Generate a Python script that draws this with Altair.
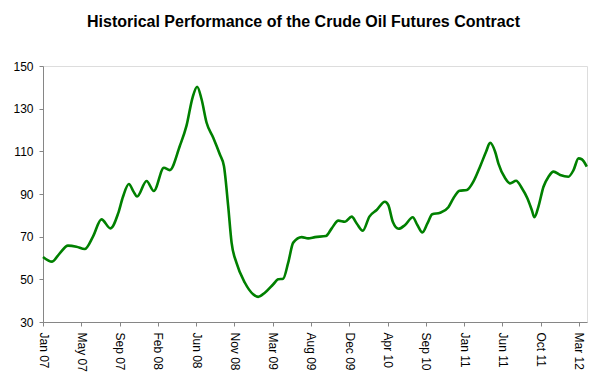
import altair as alt
import pandas as pd

title_text = "Historical Performance of the Crude Oil Futures Contract"

# week index since first week of Jan 2007 (weekly category axis)
weeks = [0, 4.5, 8.3, 12.4, 16.6, 20.7, 24.8, 29, 33.5, 37.3, 39.7, 42.6, 45, 46.7,
         51.4, 55, 60, 62.9, 67.9, 71.2, 74.2, 76.5, 78.7, 81.2, 84.5, 87.8, 89.8,
         91.9, 93.6, 96, 100.2, 104.3, 106.8, 110.1, 114.3, 116.7, 119.2, 121.7,
         124.2, 128.4, 131.6, 135, 140.4, 143.3, 146.6, 149.9, 153.2, 155.7, 158.7,
         162, 165.6, 169.7, 171.4, 173.6, 176.5, 179.7, 183.5, 185.8, 188.3, 190.8,
         193.2, 197.1, 201.2, 203.7, 206.7, 210.4, 213.6, 216.9, 219.9, 221.9,
         224.4, 226, 229.4, 231.8, 234.8, 237.7, 240.4, 242.6, 243.9, 245.9, 248.4,
         250.9, 253.4, 256.7, 260.8, 263.3, 265.8, 267.4, 269.9]
prices = [60.5, 58.3, 62.2, 65.8, 65.3, 64.2, 70, 78.1, 73.9, 80.9, 88.7, 94.7, 91, 88.8,
          96.1, 91.4, 102.3, 101.2, 112.5, 121.9, 135.1, 140.3, 134.4, 123.4, 116.4, 108.5, 103.1,
          84.4, 67.2, 57.8, 48.4, 43, 41.8, 43.7, 47.7, 50, 50.3, 57.8,
          67.2, 69.8, 69.2, 69.8, 70.3, 73.9, 77.5, 77, 79.4, 76.2, 72.8,
          79.4, 82.5, 86.4, 84.8, 77, 73.7, 75.5, 79.1, 75.5, 72, 76.2,
          80.5, 81.2, 83.8, 88, 91.5, 91.9, 95.8, 102.8, 109.8, 114,
          109.8, 104.4, 97.4, 95, 96.2, 92.7, 88, 82.5, 79.1, 84.1, 93.4,
          98.1, 100.5, 98.9, 98.1, 101.2, 106.7, 106.3, 102.8]

tick_labels = ["Jan 07", "May 07", "Sep 07", "Feb 08", "Jun 08", "Nov 08", "Mar 09",
               "Aug 09", "Dec 09", "Apr 10", "Sep 10", "Jan 11", "Jun 11", "Oct 11", "Mar 12"]
tick_step = 19
tick_values = [i * tick_step for i in range(len(tick_labels))]
y_ticks = [30, 50, 70, 90, 110, 130, 150]

df = pd.DataFrame({"week": weeks, "price": prices})

label_arr = "[" + ",".join("'" + t + "'" for t in tick_labels) + "]"

FONT = "Liberation Sans"

chart = alt.Chart(df).mark_line(
    color="#008000", strokeWidth=2.6, interpolate="monotone"
).encode(
    x=alt.X("week:Q",
            scale=alt.Scale(domain=[0, 270], nice=False, zero=False),
            axis=alt.Axis(values=tick_values, title=None, grid=False,
                          labelExpr=label_arr + "[round(datum.value/" + str(tick_step) + ")]",
                          labelAngle=90, labelPadding=6, tickSize=4,
                          labelFontSize=12, labelColor="#000000", labelFont=FONT,
                          domainColor="#868686", tickColor="#868686",
                          labelOverlap=False)),
    y=alt.Y("price:Q",
            scale=alt.Scale(domain=[30, 150], nice=False, zero=False),
            axis=alt.Axis(values=y_ticks, title=None, grid=False,
                          tickSize=4, labelPadding=6,
                          labelFontSize=12, labelColor="#000000", labelFont=FONT,
                          domainColor="#868686", tickColor="#868686")),
).properties(
    width=544,
    height=256,
    title=alt.TitleParams(title_text, anchor="start", frame="group", dx=44, offset=30,
                          font=FONT, fontSize=16, fontWeight="bold", color="#000000"),
    autosize=alt.AutoSizeParams(type="none"),
    padding={"left": 35, "top": 58, "right": 12, "bottom": 57},
).configure_view(
    stroke="#b4b4b4", strokeWidth=1
).configure(background="white")

chart.save("out.html", embed_options={"renderer": "svg", "actions": False})
